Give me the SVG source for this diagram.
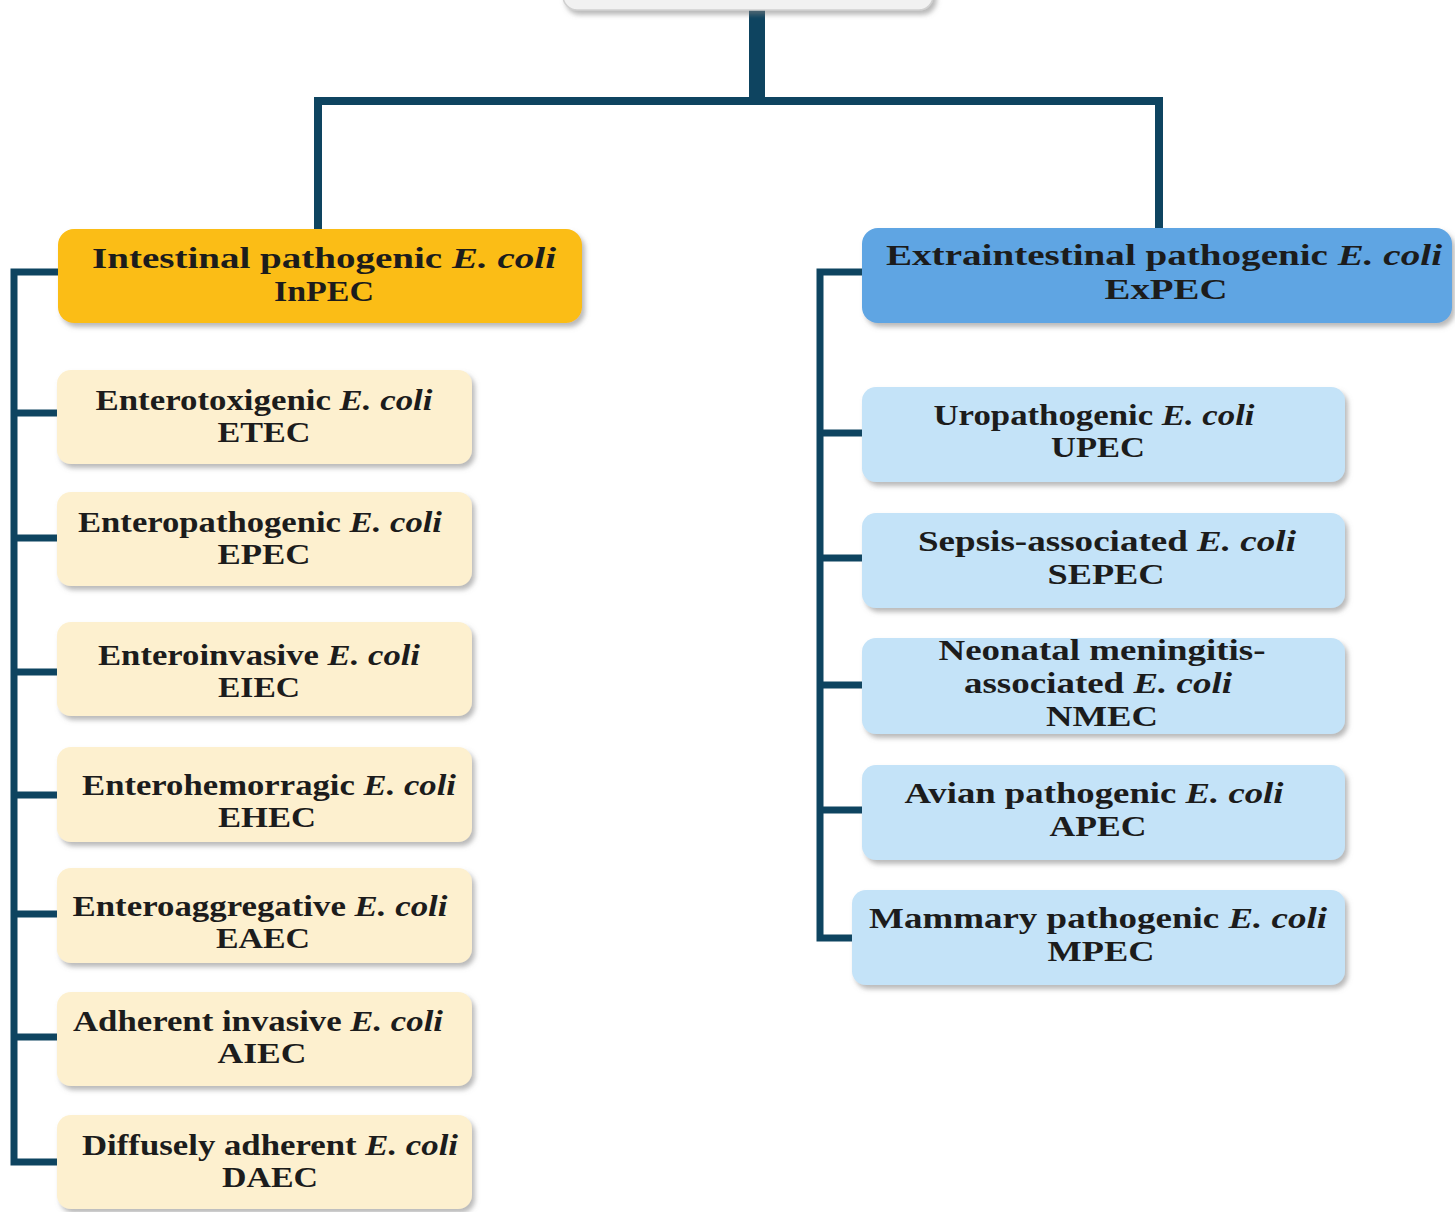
<svg xmlns="http://www.w3.org/2000/svg" width="1455" height="1212" viewBox="0 0 1455 1212">
<defs>
<filter id="sh" x="-5%" y="-10%" width="112%" height="130%">
<feDropShadow dx="3" dy="4" stdDeviation="2.5" flood-color="#808080" flood-opacity="0.55"/>
</filter>
</defs>
<style>
.t{font-family:"Liberation Serif","Times New Roman",serif;font-weight:bold;font-size:29px;fill:#1c1c1c;text-anchor:middle}
.h{font-size:30px}
.i{font-style:italic}
.c{stroke:#0e4460;fill:none;stroke-linecap:butt;stroke-linejoin:miter}
.in{fill:#fbbd12}
.ex{fill:#5ea5e3}
.li{fill:#fdf0cf}
.le{fill:#c4e3f8}
.top{fill:#f1f1f1;stroke:#d0d0d0;stroke-width:1.5}
</style>
<rect x="0" y="0" width="1455" height="1212" fill="#ffffff"/>
<g id="connectors">
<path class="c" d="M757 8 V101" stroke-width="16"/>
<path class="c" d="M318 230 V101 H1159 V230" stroke-width="8"/>
<path class="c" d="M60 272 H14 V1162 H60" stroke-width="7"/>
<path class="c" d="M14 413 H60 M14 538 H60 M14 672 H60 M14 795 H60 M14 914 H60 M14 1037 H60" stroke-width="7"/>
<path class="c" d="M864 272 H820 V938 H856" stroke-width="7"/>
<path class="c" d="M820 433 H864 M820 558 H864 M820 685 H864 M820 810 H864" stroke-width="7"/>
</g>
<g id="root"><rect class="top" x="563" y="-40" width="370" height="50" rx="14" filter="url(#sh)"/></g>
<g id="inpec"><rect class="in" x="58" y="229" width="524" height="94" rx="16" filter="url(#sh)"/>
<text class="t h" x="324" y="268" textLength="464" lengthAdjust="spacingAndGlyphs">Intestinal pathogenic <tspan class="i">E. coli</tspan></text>
<text class="t h" x="324" y="301" textLength="100" lengthAdjust="spacingAndGlyphs">InPEC</text></g>
<g id="expec"><rect class="ex" x="862" y="228" width="590" height="95" rx="16" filter="url(#sh)"/>
<text class="t h" x="1164" y="265" textLength="556" lengthAdjust="spacingAndGlyphs">Extraintestinal pathogenic <tspan class="i">E. coli</tspan></text>
<text class="t h" x="1166" y="299" textLength="123" lengthAdjust="spacingAndGlyphs">ExPEC</text></g>
<g id="etec"><rect class="li" x="57" y="370" width="415" height="94" rx="14" filter="url(#sh)"/>
<text class="t" x="264" y="410" textLength="337" lengthAdjust="spacingAndGlyphs">Enterotoxigenic <tspan class="i">E. coli</tspan></text>
<text class="t" x="264" y="442" textLength="93" lengthAdjust="spacingAndGlyphs">ETEC</text></g>
<g id="epec"><rect class="li" x="57" y="492" width="415" height="94" rx="14" filter="url(#sh)"/>
<text class="t" x="260" y="532" textLength="364" lengthAdjust="spacingAndGlyphs">Enteropathogenic <tspan class="i">E. coli</tspan></text>
<text class="t" x="264" y="564" textLength="93" lengthAdjust="spacingAndGlyphs">EPEC</text></g>
<g id="eiec"><rect class="li" x="57" y="622" width="415" height="94" rx="14" filter="url(#sh)"/>
<text class="t" x="259" y="665" textLength="322" lengthAdjust="spacingAndGlyphs">Enteroinvasive <tspan class="i">E. coli</tspan></text>
<text class="t" x="259" y="697" textLength="82" lengthAdjust="spacingAndGlyphs">EIEC</text></g>
<g id="ehec"><rect class="li" x="57" y="747" width="415" height="95" rx="14" filter="url(#sh)"/>
<text class="t" x="269" y="795" textLength="374" lengthAdjust="spacingAndGlyphs">Enterohemorragic <tspan class="i">E. coli</tspan></text>
<text class="t" x="267" y="827" textLength="98" lengthAdjust="spacingAndGlyphs">EHEC</text></g>
<g id="eaec"><rect class="li" x="57" y="868" width="415" height="95" rx="14" filter="url(#sh)"/>
<text class="t" x="260" y="916" textLength="375" lengthAdjust="spacingAndGlyphs">Enteroaggregative <tspan class="i">E. coli</tspan></text>
<text class="t" x="263" y="948" textLength="94" lengthAdjust="spacingAndGlyphs">EAEC</text></g>
<g id="aiec"><rect class="li" x="57" y="992" width="415" height="94" rx="14" filter="url(#sh)"/>
<text class="t" x="258" y="1031" textLength="370" lengthAdjust="spacingAndGlyphs">Adherent invasive <tspan class="i">E. coli</tspan></text>
<text class="t" x="262" y="1063" textLength="89" lengthAdjust="spacingAndGlyphs">AIEC</text></g>
<g id="daec"><rect class="li" x="57" y="1115" width="415" height="94" rx="14" filter="url(#sh)"/>
<text class="t" x="270" y="1155" textLength="376" lengthAdjust="spacingAndGlyphs">Diffusely adherent <tspan class="i">E. coli</tspan></text>
<text class="t" x="270" y="1187" textLength="96" lengthAdjust="spacingAndGlyphs">DAEC</text></g>
<g id="upec"><rect class="le" x="862" y="387" width="483" height="95" rx="14" filter="url(#sh)"/>
<text class="t" x="1094" y="425" textLength="321" lengthAdjust="spacingAndGlyphs">Uropathogenic <tspan class="i">E. coli</tspan></text>
<text class="t" x="1098" y="457" textLength="94" lengthAdjust="spacingAndGlyphs">UPEC</text></g>
<g id="sepec"><rect class="le" x="862" y="513" width="483" height="95" rx="14" filter="url(#sh)"/>
<text class="t" x="1107" y="551" textLength="378" lengthAdjust="spacingAndGlyphs">Sepsis-associated <tspan class="i">E. coli</tspan></text>
<text class="t" x="1106" y="584" textLength="117" lengthAdjust="spacingAndGlyphs">SEPEC</text></g>
<g id="nmec"><rect class="le" x="862" y="638" width="483" height="96" rx="14" filter="url(#sh)"/>
<text class="t" x="1102" y="660" textLength="327" lengthAdjust="spacingAndGlyphs">Neonatal meningitis-</text>
<text class="t" x="1098" y="693" textLength="268" lengthAdjust="spacingAndGlyphs">associated <tspan class="i">E. coli</tspan></text>
<text class="t" x="1102" y="726" textLength="112" lengthAdjust="spacingAndGlyphs">NMEC</text></g>
<g id="apec"><rect class="le" x="862" y="765" width="483" height="95" rx="14" filter="url(#sh)"/>
<text class="t" x="1094" y="803" textLength="379" lengthAdjust="spacingAndGlyphs">Avian pathogenic <tspan class="i">E. coli</tspan></text>
<text class="t" x="1098" y="836" textLength="97" lengthAdjust="spacingAndGlyphs">APEC</text></g>
<g id="mpec"><rect class="le" x="852" y="890" width="493" height="95" rx="14" filter="url(#sh)"/>
<text class="t" x="1098" y="928" textLength="458" lengthAdjust="spacingAndGlyphs">Mammary pathogenic <tspan class="i">E. coli</tspan></text>
<text class="t" x="1101" y="961" textLength="107" lengthAdjust="spacingAndGlyphs">MPEC</text></g>
</svg>
